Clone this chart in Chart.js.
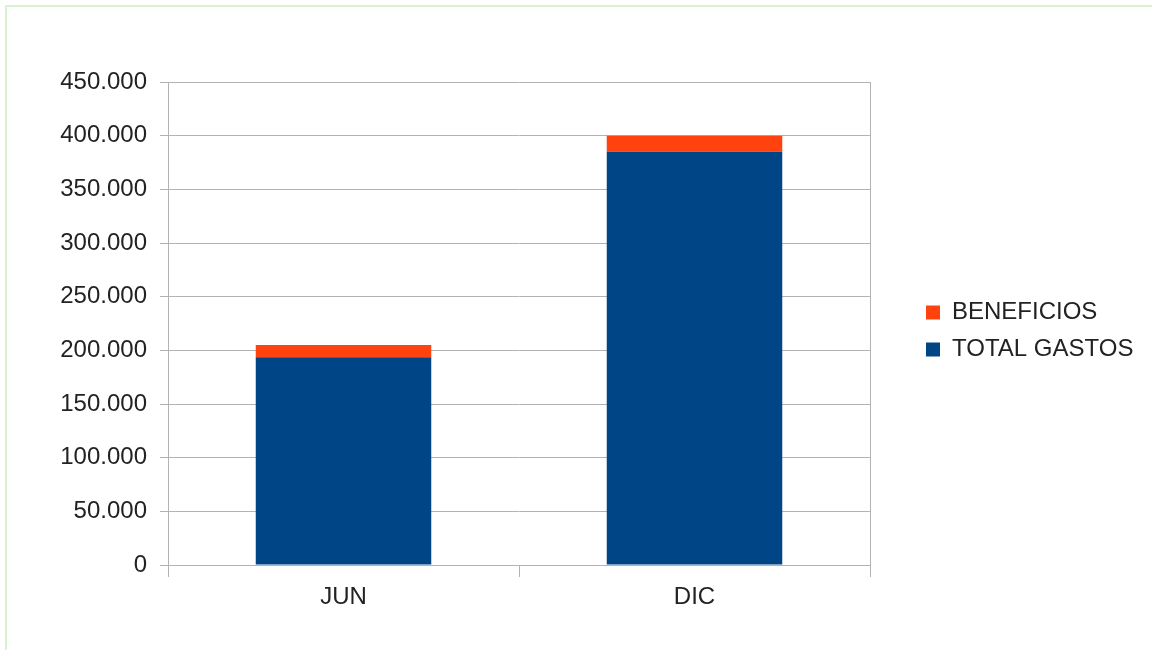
<!DOCTYPE html>
<html>
<head>
<meta charset="utf-8">
<script src="https://cdn.jsdelivr.net/npm/chart.js@4.4.1/dist/chart.umd.min.js"></script>
<style>
  html, body { margin: 0; padding: 0; background: #fff; overflow: hidden; }
  #marco { position: absolute; left: 5px; top: 5px; width: 1200px; height: 700px;
           border-top: 2px solid #d6f2cf; border-left: 2px solid #d6f2cf; }
  #wrap { position: absolute; left: 0; top: 0; width: 1152px; height: 650px; }
</style>
</head>
<body>
<div id="marco"></div>
<div id="wrap"><canvas id="grafico" width="1152" height="650"></canvas></div>
<script>
// Datos
const categorias = ['JUN', 'DIC'];
const totalGastos = [193500, 385000];
const beneficios = [11500, 15000];
const ejeMin = 0;
const ejeMax = 450000;
const paso = 50000;

const gris = '#b3b3b3';
const fuente = 'Liberation Sans, Arial, sans-serif';

function formatoMiles(v) {
    return String(v).replace(/\B(?=(\d{3})+(?!\d))/g, '.');
}

// La leyenda de la derecha queda limitada a un ancho pequeño; se fija a mano
// y se sube un poco para que quede centrada como en el original
const ajusteLeyenda = {
    id: 'ajusteLeyenda',
    afterInit(chart) {
        const lg = chart.legend;
        if (!lg) return;
        const fitOrig = lg.fit;
        lg.fit = function() {
            fitOrig.call(this);
            this.width = 235;
        };
    },
    afterLayout(chart) {
        const lg = chart.legend;
        if (!lg) return;
        lg.top -= 20;
        lg.bottom -= 20;
    }
};

const ctx = document.getElementById('grafico').getContext('2d');
new Chart(ctx, {
    type: 'bar',
    data: {
        labels: categorias,
        datasets: [
            {
                label: 'TOTAL GASTOS',
                data: totalGastos,
                backgroundColor: '#004586',
                borderWidth: 0
            },
            {
                label: 'BENEFICIOS',
                data: beneficios,
                backgroundColor: '#ff420e',
                borderWidth: 0
            }
        ]
    },
    options: {
        responsive: false,
        animation: false,
        devicePixelRatio: 1,
        categoryPercentage: 1,
        barPercentage: 0.5,
        layout: {
            padding: { left: 0, top: 82, right: 4, bottom: 30 }
        },
        plugins: {
            legend: {
                position: 'right',
                reverse: true,
                labels: {
                    boxWidth: 14,
                    boxHeight: 14,
                    padding: 13,
                    color: '#222',
                    font: { family: fuente, size: 24 }
                }
            },
            tooltip: { enabled: false }
        },
        scales: {
            x: {
                stacked: true,
                offset: true,
                grid: {
                    offset: true,
                    drawOnChartArea: false,
                    drawTicks: true,
                    tickLength: 12,
                    color: gris,
                    lineWidth: 1
                },
                border: { display: true, color: gris },
                ticks: {
                    padding: 6,
                    color: '#222',
                    font: { family: fuente, size: 24 }
                },
                afterFit: function(s) { s.height = 55; }
            },
            y: {
                stacked: true,
                min: ejeMin,
                max: ejeMax,
                grid: {
                    color: gris,
                    lineWidth: 1,
                    tickLength: 8
                },
                border: { display: true, color: gris },
                ticks: {
                    stepSize: paso,
                    padding: 13,
                    color: '#222',
                    font: { family: fuente, size: 24 },
                    callback: function(v) { return formatoMiles(v); }
                },
                afterFit: function(s) { s.width = 168; }
            },
            y2: {
                position: 'right',
                min: ejeMin,
                max: ejeMax,
                grid: { drawOnChartArea: false, drawTicks: false },
                border: { display: true, color: gris },
                ticks: { display: false },
                afterFit: function(s) { s.width = 43; }
            }
        }
    },
    plugins: [ajusteLeyenda]
});
</script>
</body>
</html>
